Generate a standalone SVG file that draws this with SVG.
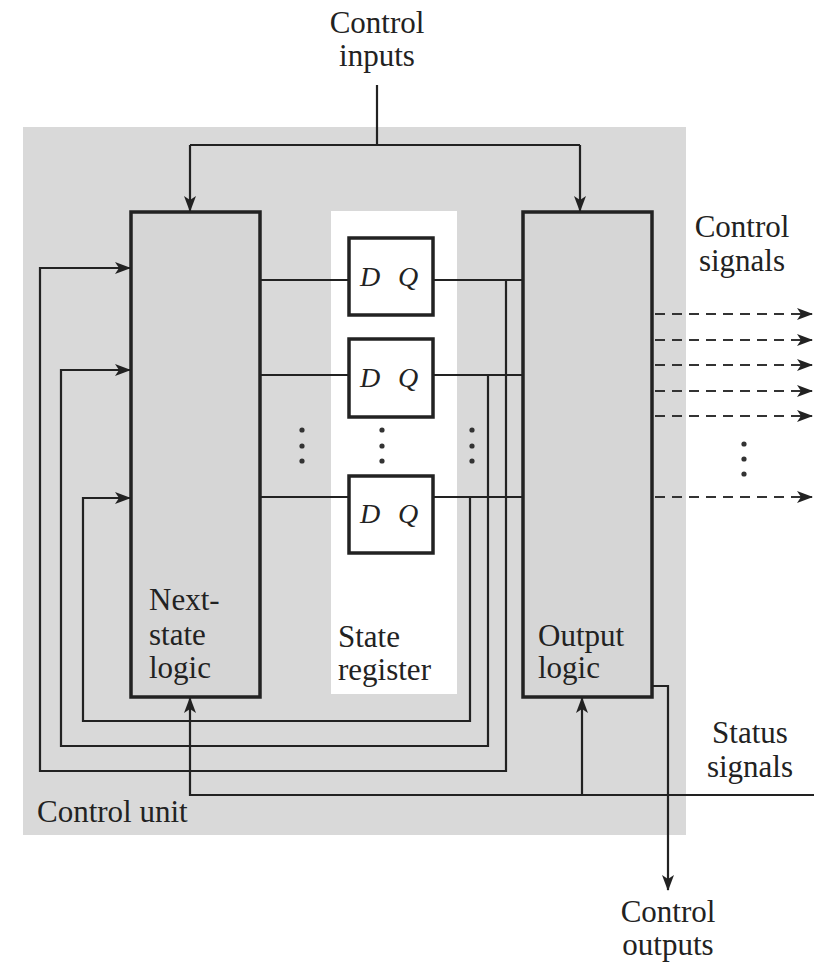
<svg xmlns="http://www.w3.org/2000/svg" width="814" height="963" viewBox="0 0 814 963">
<style>
.t{font-family:"Liberation Serif","Times New Roman",serif;font-size:31px;fill:#222}
.dq{font-family:"Liberation Serif","Times New Roman",serif;font-size:28px;font-style:italic;fill:#222}
.blk{fill:#d6d6d6;stroke:#222;stroke-width:3.5}
.ff{fill:#fff;stroke:#222;stroke-width:3.5}
.w{fill:none;stroke:#222;stroke-width:2.2}
.d{fill:none;stroke:#333;stroke-width:2.2;stroke-dasharray:10 7}
.dot{fill:#333}
</style>
<defs>
<marker id="a" markerUnits="userSpaceOnUse" markerWidth="16" markerHeight="12" refX="15" refY="6" orient="auto">
<path d="M0,0 L16,6 L0,12 L4,6 Z" fill="#222"/>
</marker>
</defs>
<rect width="814" height="963" fill="#fff"/>
<rect id="control-unit-bg" x="23" y="127" width="663" height="708" fill="#d9d9d9"/>
<rect id="state-register-bg" x="331" y="211" width="126" height="483" fill="#fff"/>

<g id="connectors">
<!-- control inputs -->
<path class="w" d="M377,85 V145"/>
<path class="w" d="M190,145 H580"/>
<path class="w" d="M190,145 V211" marker-end="url(#a)"/>
<path class="w" d="M580,145 V211" marker-end="url(#a)"/>
<!-- next state to D -->
<path class="w" d="M260,280 H349"/>
<path class="w" d="M260,375 H349"/>
<path class="w" d="M260,497 H349"/>
<!-- Q to output logic -->
<path class="w" d="M433,280 H523"/>
<path class="w" d="M433,375 H523"/>
<path class="w" d="M433,497 H523"/>
<!-- feedback loops -->
<path class="w" d="M506,280 V771 H40 V268 H130" marker-end="url(#a)"/>
<path class="w" d="M488,375 V746 H61 V370 H130" marker-end="url(#a)"/>
<path class="w" d="M470,497 V721 H83 V498 H130" marker-end="url(#a)"/>
<!-- status signals -->
<path class="w" d="M814,795 H190 V698" marker-end="url(#a)"/>
<path class="w" d="M582,795 V698" marker-end="url(#a)"/>
<!-- control outputs -->
<path class="w" d="M652,686 H668 V890" marker-end="url(#a)"/>
<!-- control signals -->
<path class="d" d="M655,314 H812" marker-end="url(#a)"/>
<path class="d" d="M655,340 H812" marker-end="url(#a)"/>
<path class="d" d="M655,365 H812" marker-end="url(#a)"/>
<path class="d" d="M655,391 H812" marker-end="url(#a)"/>
<path class="d" d="M655,416 H812" marker-end="url(#a)"/>
<path class="d" d="M655,497 H812" marker-end="url(#a)"/>
</g>

<g id="next-state-logic">
<rect class="blk" x="131" y="212" width="129" height="485"/>
<text class="t" x="149" y="610">Next-</text>
<text class="t" x="149" y="645">state</text>
<text class="t" x="149" y="678">logic</text>
</g>

<g id="output-logic">
<rect class="blk" x="523" y="212" width="129" height="485"/>
<text class="t" x="538" y="646">Output</text>
<text class="t" x="538" y="678">logic</text>
</g>

<g id="ff1">
<rect class="ff" x="349" y="238" width="84" height="77"/>
<text class="dq" x="360" y="286">D</text>
<text class="dq" x="398" y="286">Q</text>
</g>
<g id="ff2">
<rect class="ff" x="349" y="339" width="84" height="78"/>
<text class="dq" x="360" y="387">D</text>
<text class="dq" x="398" y="387">Q</text>
</g>
<g id="ff3">
<rect class="ff" x="349" y="476" width="84" height="77"/>
<text class="dq" x="360" y="523">D</text>
<text class="dq" x="398" y="523">Q</text>
</g>

<g id="dots">
<circle class="dot" cx="302" cy="430" r="2.6"/><circle class="dot" cx="302" cy="446" r="2.6"/><circle class="dot" cx="302" cy="461" r="2.6"/>
<circle class="dot" cx="382" cy="430" r="2.6"/><circle class="dot" cx="382" cy="446" r="2.6"/><circle class="dot" cx="382" cy="461" r="2.6"/>
<circle class="dot" cx="472" cy="430" r="2.6"/><circle class="dot" cx="472" cy="446" r="2.6"/><circle class="dot" cx="472" cy="461" r="2.6"/>
<circle class="dot" cx="744" cy="444" r="2.6"/><circle class="dot" cx="744" cy="459" r="2.6"/><circle class="dot" cx="744" cy="474" r="2.6"/>
</g>

<g id="labels">
<text class="t" x="377" y="33" text-anchor="middle">Control</text>
<text class="t" x="377" y="66" text-anchor="middle">inputs</text>
<text class="t" x="742" y="237" text-anchor="middle">Control</text>
<text class="t" x="742" y="271" text-anchor="middle">signals</text>
<text class="t" x="338" y="647">State</text>
<text class="t" x="338" y="680">register</text>
<text class="t" x="750" y="743" text-anchor="middle">Status</text>
<text class="t" x="750" y="777" text-anchor="middle">signals</text>
<text class="t" x="37" y="822">Control unit</text>
<text class="t" x="668" y="922" text-anchor="middle">Control</text>
<text class="t" x="668" y="955" text-anchor="middle">outputs</text>
</g>
</svg>
